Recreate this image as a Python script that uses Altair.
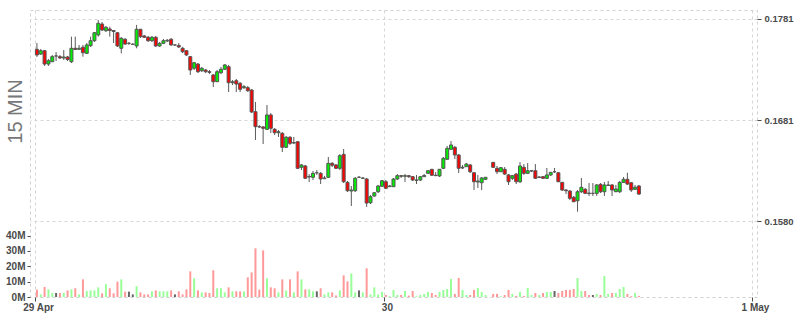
import altair as alt
import pandas as pd

# ---- data (15-minute candles, 29-30 Apr) ----
start = "2024-04-29 01:15"
opens = [0.17505,0.17458,0.17491,0.17359,0.17382,0.17439,0.17432,0.17419,0.17429,0.17382,
0.17515,0.17505,0.17525,0.17465,0.17541,0.17590,0.17647,0.17755,0.17689,0.17706,
0.17691,0.17669,0.17515,0.17604,0.17564,0.17554,0.17538,0.17703,0.17637,0.17624,
0.17590,0.17624,0.17538,0.17564,0.17587,0.17604,0.17548,0.17543,0.17515,0.17491,
0.17432,0.17317,0.17359,0.17293,0.17300,0.17283,0.17251,0.17184,0.17273,0.17307,
0.17333,0.17174,0.17194,0.17168,0.17125,0.17125,0.17102,0.16887,0.16739,0.16736,
0.16713,0.16855,0.16713,0.16679,0.16673,0.16535,0.16634,0.16577,0.16590,0.16337,
0.16350,0.16241,0.16238,0.16283,0.16277,0.16224,0.16238,0.16376,0.16360,0.16327,
0.16465,0.16188,0.16102,0.16105,0.16238,0.16228,0.16221,0.15986,0.16053,0.16095,
0.16149,0.16194,0.16145,0.16145,0.16221,0.16254,0.16248,0.16254,0.16244,0.16208,
0.16211,0.16244,0.16277,0.16317,0.16258,0.16251,0.16327,0.16416,0.16515,0.16535,
0.16459,0.16330,0.16343,0.16360,0.16283,0.16191,0.16184,0.16218,None,0.16386,
0.16327,0.16293,0.16317,0.16261,0.16228,0.16270,0.16194,0.16337,0.16277,0.16300,
0.16303,0.16236,0.16244,0.16228,0.16261,0.16293,0.16283,0.16188,0.16112,0.16102,
0.16040,0.16006,0.16095,0.16119,0.16082,0.16079,0.16079,0.16168,0.16095,0.16157,
0.16162,0.16095,0.16095,0.16188,0.16218,0.16184,0.16119,0.16152]
closes = [0.17449,0.17491,0.17359,0.17392,0.17432,0.17439,0.17419,0.17429,0.17404,0.17515,
0.17503,0.17515,0.17471,0.17548,0.17590,0.17669,0.17762,0.17696,0.17723,0.17691,
0.17681,0.17538,0.17614,0.17557,0.17564,0.17554,0.17703,0.17630,0.17624,0.17590,
0.17624,0.17538,0.17564,0.17590,0.17594,0.17548,0.17548,0.17528,0.17481,0.17449,
0.17300,0.17372,0.17283,0.17317,0.17283,0.17277,0.17184,0.17283,0.17307,0.17350,
0.17174,0.17184,0.17161,0.17109,0.17135,0.17095,0.16884,0.16739,0.16736,0.16723,
0.16855,0.16723,0.16679,0.16689,0.16535,0.16634,0.16574,0.16582,0.16327,0.16360,
0.16228,0.16246,0.16277,0.16283,0.16221,0.16231,0.16376,0.16357,0.16327,0.16452,
0.16194,0.16105,0.16112,0.16228,0.16238,0.16231,0.15983,0.16046,0.16085,0.16152,
0.16204,0.16129,0.16152,0.16221,0.16254,0.16248,0.16254,0.16244,0.16211,0.16211,
0.16244,0.16256,0.16303,0.16258,0.16254,0.16317,0.16426,0.16525,0.16558,0.16459,
0.16327,0.16337,0.16369,0.16293,0.16194,0.16201,0.16231,0.16238,None,0.16337,
0.16293,0.16333,0.16270,0.16194,0.16254,0.16194,0.16350,0.16277,0.16303,0.16303,
0.16228,0.16241,0.16228,0.16261,0.16287,0.16293,0.16194,0.16112,0.16105,0.16030,
0.15996,0.16095,0.16139,0.16079,0.16077,0.16079,0.16162,0.16095,0.16162,0.16162,
0.16112,0.16122,0.16188,0.16218,0.16171,0.16112,0.16139,0.16072]
highs = [0.17567,0.17508,0.17498,0.17409,0.17449,0.17478,0.17449,0.17498,0.17439,0.17630,
0.17630,0.17548,0.17548,0.17567,0.17630,0.17676,0.17795,0.17775,0.17736,0.17729,
0.17696,0.17676,0.17627,0.17617,0.17577,0.17567,0.17746,0.17706,0.17647,0.17637,
0.17637,0.17637,0.17577,0.17607,0.17607,0.17617,0.17557,0.17567,0.17528,0.17498,
0.17439,0.17379,0.17369,0.17330,0.17310,0.17300,0.17260,0.17300,0.17330,0.17359,
0.17350,0.17201,0.17211,0.17181,0.17152,0.17142,0.17112,0.16983,0.16756,0.16746,
0.16954,0.16874,0.16726,0.16706,0.16686,0.16647,0.16647,0.16637,0.16597,0.16369,
0.16360,0.16270,0.16300,0.16310,0.16290,0.16251,0.16439,0.16389,0.16369,0.16468,
0.16518,0.16201,0.16152,0.16241,0.16251,0.16241,0.16231,0.16063,0.16092,0.16162,
0.16211,0.16211,0.16162,0.16231,0.16270,0.16261,0.16270,0.16261,0.16251,0.16261,
0.16251,0.16270,0.16310,0.16320,0.16290,0.16320,0.16439,0.16548,0.16597,0.16548,
0.16468,0.16360,0.16379,0.16369,0.16290,0.16261,0.16241,0.16241,None,0.16389,
0.16350,0.16340,0.16340,0.16270,0.16261,0.16280,0.16389,0.16369,0.16379,0.16310,
0.16369,0.16251,0.16251,0.16330,0.16290,0.16330,0.16290,0.16191,0.16122,0.16112,
0.16053,0.16112,0.16231,0.16132,0.16181,0.16181,0.16171,0.16181,0.16191,0.16201,
0.16171,0.16162,0.16201,0.16241,0.16283,0.16191,0.16162,0.16162]
lows = [0.17429,0.17449,0.17340,0.17340,0.17379,0.17389,0.17409,0.17399,0.17389,0.17369,
0.17498,0.17498,0.17432,0.17458,0.17528,0.17577,0.17630,0.17686,0.17676,0.17630,
0.17567,0.17528,0.17465,0.17548,0.17548,0.17548,0.17515,0.17617,0.17617,0.17577,
0.17577,0.17528,0.17528,0.17557,0.17577,0.17538,0.17538,0.17518,0.17468,0.17439,
0.17251,0.17300,0.17270,0.17280,0.17270,0.17260,0.17132,0.17181,0.17260,0.17300,
0.17082,0.17152,0.17082,0.17082,0.17112,0.17082,0.16874,0.16607,0.16726,0.16567,
0.16706,0.16676,0.16657,0.16637,0.16488,0.16528,0.16558,0.16567,0.16320,0.16310,
0.16221,0.16191,0.16211,0.16261,0.16171,0.16221,0.16231,0.16340,0.16320,0.16310,
0.16181,0.16092,0.15954,0.16092,0.16231,0.16221,0.15944,0.15973,0.16043,0.16082,
0.16142,0.16122,0.16142,0.16142,0.16211,0.16231,0.16191,0.16231,0.16201,0.16171,
0.16201,0.16241,0.16270,0.16251,0.16251,0.16241,0.16320,0.16409,0.16508,0.16419,
0.16280,0.16320,0.16340,0.16280,0.16112,0.16132,0.16112,0.16211,None,0.16330,
0.16270,0.16290,0.16261,0.16162,0.16211,0.16171,0.16181,0.16261,0.16270,0.16290,
0.16221,0.16231,0.16221,0.16221,0.16251,0.16280,0.16191,0.16102,0.16072,0.16013,
0.15993,0.15897,0.16082,0.16072,0.16053,0.16053,0.16053,0.16082,0.16053,0.16152,
0.16053,0.16092,0.16082,0.16181,0.16162,0.16092,0.16112,0.16063]
volumes_m = [4.8,1.7,6.5,5.0,2.6,2.6,2.6,2.6,4.3,5.0,
5.7,1.7,11.5,3.9,4.3,4.3,6.3,2.4,8.3,5.7,
2.4,10.0,11.5,3.5,3.5,1.7,7.0,3.0,1.7,1.7,
3.7,4.3,3.7,3.7,3.7,4.3,1.7,3.7,1.7,5.0,
16.7,12.2,4.3,3.0,3.0,2.6,17.4,5.7,5.7,3.0,
6.3,3.7,3.7,3.7,3.7,12.8,16.0,31.7,4.8,30.4,
12.2,6.3,5.7,3.0,11.5,4.3,11.5,3.0,16.7,11.5,
5.0,5.0,3.7,3.7,5.7,1.7,3.0,3.0,1.0,4.3,
14.1,10.2,15.4,3.0,4.3,3.0,18.7,1.7,6.3,1.7,
3.3,1.3,0.5,4.6,1.3,1.3,3.9,0.9,3.9,0.5,
1.3,2.0,3.3,2.6,1.3,3.3,4.6,5.2,11.7,2.0,
12.4,4.6,1.3,1.3,4.6,5.9,3.3,1.3,None,2.0,
2.0,0.5,1.3,4.6,2.0,0.7,3.3,0.7,5.9,1.3,
2.6,1.3,2.6,3.3,3.3,3.9,2.6,3.9,4.6,4.6,
5.2,12.4,3.9,3.9,1.3,1.3,2.0,1.3,13.7,2.0,
2.6,2.6,5.2,6.5,2.0,0.5,2.6,0.7]

x_ticks = [75, 1440, 2880]            # minutes since 29 Apr 00:00
x_domain = [75, 2880]
price_ticks = [0.15805, 0.16805, 0.17805]
price_domain = [0.15053, 0.17894]
vol_ticks = [0, 10, 20, 30, 40]
vol_domain = [0, 187]

# ---- table ----
times = pd.date_range(start, periods=len(opens), freq="15min")
day0 = pd.Timestamp("2024-04-29 00:00")
rows = []
for t, o, h, l, c, v in zip(times, opens, highs, lows, closes, volumes_m):
    if o is None:
        continue
    mid = (t - day0).total_seconds() / 60 + 7.5
    d = "up" if c > o else ("down" if c < o else "flat")
    rows.append(dict(t=mid, open=o, high=h, low=l, close=c, vol=v, dir=d))
df = pd.DataFrame(rows)

LBL = "#4a4a4a"
FONT = "Liberation Sans"

x_scale = alt.Scale(domain=x_domain, nice=False, zero=False)
x_axis = alt.Axis(values=x_ticks, title=None, grid=True, gridDash=[3, 3], gridColor="#d6d6d6",
                  domain=False, tickSize=4, tickColor=LBL, labelColor=LBL, labelFont=FONT,
                  labelFontWeight="bold", labelFontSize=10, labelOffset=3, labelPadding=1,
                  labelOverlap=False, labelFlush=False,
                  labelExpr="datum.value < 800 ? '29 Apr' : (datum.value < 2000 ? '30' : '1 May')")

p_scale = alt.Scale(domain=price_domain, nice=False, zero=False)
p_axis = alt.Axis(orient="right", values=price_ticks, title=None, grid=True, gridDash=[3, 3],
                  gridColor="#d6d6d6", domain=False, tickSize=4, tickColor=LBL, labelColor=LBL,
                  labelFont=FONT, labelFontWeight="bold", labelFontSize=9.5, labelPadding=3,
                  labelExpr="datum.value < 0.163 ? '0.1580' : (datum.value < 0.173 ? '0.1681' : '0.1781')")

v_scale = alt.Scale(domain=vol_domain, nice=False, zero=True)
v_axis = alt.Axis(orient="left", values=vol_ticks, grid=False, domain=False, tickSize=3,
                  tickColor=LBL, labelColor=LBL, labelFont=FONT, labelFontWeight="bold",
                  labelFontSize=10, labelPadding=2, labelExpr="datum.value + 'M'",
                  title="15 MIN", titleX=-15, titleY=101, titleAngle=270, titleAlign="center",
                  titleBaseline="middle", titleFont=FONT, titleFontSize=20,
                  titleFontWeight="normal", titleColor="#777777")

base = alt.Chart(df)

vol = base.mark_bar(size=2).encode(
    x=alt.X("t:Q", scale=x_scale, axis=x_axis),
    y=alt.Y("vol:Q", scale=v_scale, axis=v_axis),
    color=alt.Color("dir:N", scale=alt.Scale(domain=["up", "down", "flat"],
                                             range=["#99ff99", "#ff9999", "#666666"]), legend=None),
)

wick = base.mark_rule(color="#5a5a5a", strokeWidth=1).encode(
    x=alt.X("t:Q", scale=x_scale, axis=x_axis),
    y=alt.Y("low:Q", scale=p_scale, axis=p_axis),
    y2="high:Q",
)

body = base.mark_bar(size=3, stroke="#555555", strokeWidth=1).encode(
    x=alt.X("t:Q", scale=x_scale, axis=x_axis),
    y=alt.Y("open:Q", scale=p_scale, axis=p_axis),
    y2="close:Q",
    fill=alt.Fill("dir:N", scale=alt.Scale(domain=["up", "down", "flat"],
                                           range=["#00ee00", "#ff0000", "#888888"]), legend=None),
)

price = alt.layer(wick, body)

chart = alt.layer(vol, price).resolve_scale(y="independent").properties(
    width=727, height=287,
    padding={"left": 30, "top": 10, "right": 43, "bottom": 18},
    autosize="none",
    background="white",
).configure_view(stroke="#d0d0d0", strokeDash=[3, 3])

chart.save("out.html", embed_options={"renderer": "svg", "actions": False})
